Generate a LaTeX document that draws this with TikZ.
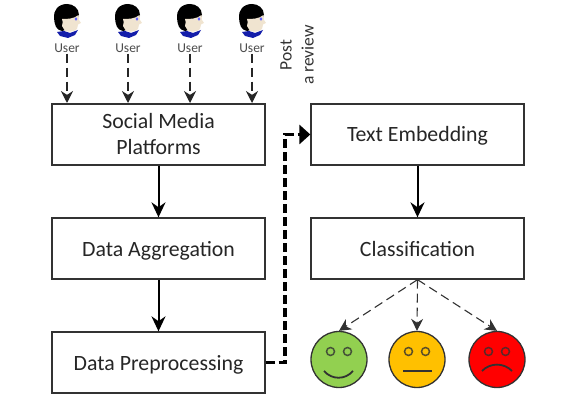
\documentclass[tikz,border=0pt]{standalone}
\usepackage{fontspec}
\setmainfont{Carlito}
\usetikzlibrary{arrows.meta,positioning}
\definecolor{linegray}{RGB}{50,50,50}
\definecolor{facegreen}{RGB}{146,208,80}
\definecolor{faceorange}{RGB}{255,192,0}
\definecolor{facered}{RGB}{255,0,0}
\definecolor{skincol}{RGB}{240,228,208}
\definecolor{collarblue}{RGB}{20,30,170}
\begin{document}
\begin{tikzpicture}[x=1pt,y=-1pt,
    stagebox/.style={rectangle,draw=linegray,line width=1.3pt,fill=white,minimum width=213pt,minimum height=61pt,align=center,font=\fontsize{21.8}{26}\selectfont,text=black!85,inner sep=0pt},
    oneline/.style={text height=15pt,text depth=0pt},
    userlabel/.style={font=\fontsize{13.5}{15}\selectfont,text=black!70,inner sep=1pt},
    face/.style={circle,draw=linegray,line width=1.3pt,minimum size=56pt,inner sep=0pt},
    solidarrow/.style={-{Stealth[length=15pt,width=14pt]},line width=2pt,draw=black},
    userarrow/.style={-{Stealth[length=12pt,width=12pt]},line width=1.1pt,draw=black!85,dash pattern=on 9pt off 5pt},
    facearrow/.style={-{Stealth[length=12pt,width=12pt]},line width=1.1pt,draw=linegray,dash pattern=on 9pt off 5pt},
    postarrow/.style={-{Stealth[length=11pt,width=19pt,inset=0pt]},line width=3.4pt,draw=black,dash pattern=on 9pt off 4pt}
]
\useasboundingbox (0,0) rectangle (573,406);

% === User heads ===
\tikzset{userhead/.pic={
    \fill[collarblue] (-10,12) -- (-3,11) -- (3,13) -- (11,10) -- (8,15) -- (1,18) -- (-7,16) -- cycle;
    \fill[black] (0,-16) .. controls (-9,-16) and (-14,-9) .. (-13,-2) .. controls (-12.5,5) and (-11,10) .. (-5,11) .. controls (0,11) and (2,6) .. (2,0) .. controls (6,0) and (12,-2) .. (12,-5) .. controls (12,-12) and (6,-16) .. (0,-16) -- cycle;
    \fill[skincol] (-5,-1) .. controls (0,-1) and (7,-1) .. (11.5,-5) .. controls (12,-3) and (12,-2) .. (12,0) -- (14,3) -- (11,4.5) -- (10,9) .. controls (7,12) and (2,12) .. (-2,11) -- (-5,6) .. controls (-4,3) and (-4,1) .. (-5,-1) -- cycle;
    \fill[blue!60] (9,-1) ellipse (1.4 and 1.8);
}}

% === Users ===
\foreach \u/\ux in {a/67,b/128,c/190,d/252} {
    \pic at (\ux,20) {userhead};
    \node[userlabel] (user\u) at (\ux,48) {User};
}

% === Left column ===
\node[stagebox] (social) at (158.5,134.5) {Social Media\\Platforms};
\node[stagebox,oneline] (aggregation) at (158.5,248.5) {Data Aggregation};
\node[stagebox,oneline] (preprocessing) at (158.5,362.5) {Data Preprocessing};

% === Right column ===
\node[stagebox,oneline] (embedding) at (417.5,134.5) {Text Embedding};
\node[stagebox,oneline] (classification) at (417.5,248.5) {Classification};

% === Faces ===
\node[face,fill=facegreen] (happy) at (339,359.5) {};
\node[face,fill=faceorange] (neutral) at (417,359.5) {};
\node[face,fill=facered] (sad) at (497,359.5) {};

\foreach \f/\fx/\fc in {happy/339/facegreen,neutral/417/faceorange,sad/497/facered} {
    \draw[linegray!80!\fc,line width=1.5pt] (\fx-8.5,351.5) circle (4);
    \draw[linegray!80!\fc,line width=1.5pt] (\fx+8.5,351.5) circle (4);
}
\draw[linegray,line width=1.8pt] (324,371) .. controls (332,380) and (345,380) .. (353,371);
\draw[linegray,line width=1.8pt] (403,371) -- (432,371);
\draw[linegray,line width=1.8pt] (482,371) .. controls (490,362.5) and (504,362.5) .. (512,371);

% === Post a review ===
\node[rotate=90,align=center,font=\fontsize{17.5}{22}\selectfont,text=black!80] (post) at (297,55) {Post\\a review};

% === Connectors ===
\foreach \u/\ux in {a/67,b/128,c/190,d/252} {
    \coordinate (top\u) at (\ux,103);
    \draw[userarrow] (user\u.south) -- (top\u);
}
\draw[solidarrow] (social) -- (aggregation);
\draw[solidarrow] (aggregation) -- (preprocessing);
\draw[solidarrow] (embedding) -- (classification);
\draw[facearrow] (classification.south) -- (happy.north);
\draw[facearrow] (classification.south) -- (neutral.north);
\draw[facearrow] (classification.south) -- (sad.north);
\draw[postarrow] (preprocessing.east) -- (285,362.5) -- (285,134.5) -- (embedding.west);

\end{tikzpicture}
\end{document}
